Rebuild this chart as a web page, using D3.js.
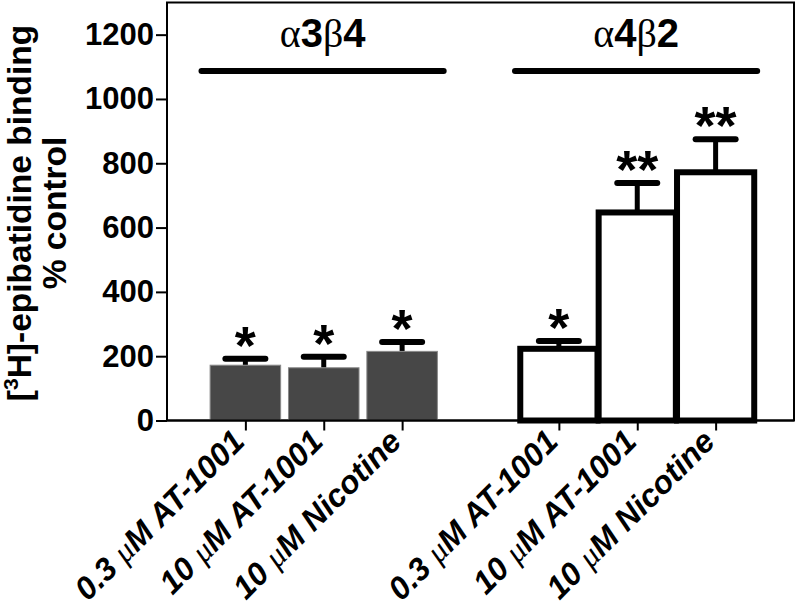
<!DOCTYPE html>
<html><head><meta charset="utf-8">
<script src="https://cdn.jsdelivr.net/npm/d3@7"></script>
<style>body{margin:0;background:#fff}svg{display:block}</style>
</head><body><svg id="c" width="800" height="608"></svg>
<script>
const labels = ["0.3 μM AT-1001","10 μM AT-1001","10 μM Nicotine","0.3 μM AT-1001","10 μM AT-1001","10 μM Nicotine"];
const groups = ["a3b4","a3b4","a3b4","a4b2","a4b2","a4b2"];
const slots = [0,1,2,4,5,6];
const means = [172,164,215,223,647,772];
const sems = [20,34,29,24,92,103];
const stars = ["*","*","*","*","**","**"];
const yTicks = [0,200,400,600,800,1000,1200];

const svg = d3.select("#c");
const L=167,R=794,T=2.5,B=420.5;
const x = d3.scaleLinear().domain([-1,7]).range([L,R]);
const y = d3.scaleLinear().domain([0,1300]).range([B,T]);
const FONT = "'Liberation Sans', Arial, sans-serif";

svg.append("rect").attr("x",L).attr("y",T).attr("width",R-L).attr("height",B-T)
  .attr("fill","none").attr("stroke","#000").attr("stroke-width",2);

const ya = svg.append("g").attr("transform",`translate(${L},0)`)
  .call(d3.axisLeft(y).tickValues(yTicks).tickFormat(d3.format("d")).tickSize(11).tickPadding(2));
ya.select(".domain").remove();
ya.selectAll(".tick line").attr("stroke-width",2);
ya.selectAll(".tick text").attr("font-family",FONT).attr("font-weight","bold").attr("font-size",31).attr("fill","#000");

const xa = svg.append("g").attr("transform",`translate(0,${B})`)
  .call(d3.axisBottom(x).tickValues(slots).tickSize(10).tickFormat(""));
xa.select(".domain").remove();
xa.selectAll(".tick line").attr("stroke-width",2);

const bw = 0.9;
slots.forEach((s,i)=>{
  const filled = groups[i]==="a3b4";
  const w = filled ? (x(bw)-x(0)) : (x(0.985)-x(0));
  svg.append("line").attr("x1",x(s)).attr("x2",x(s)).attr("y1",y(means[i])).attr("y2",y(means[i]+sems[i]))
    .attr("stroke","#000").attr("stroke-width",5);
  svg.append("line").attr("x1",x(s)-20).attr("x2",x(s)+20).attr("y1",y(means[i]+sems[i])).attr("y2",y(means[i]+sems[i]))
    .attr("stroke","#000").attr("stroke-width",6).attr("stroke-linecap","round");
  if(filled){
    svg.append("rect").attr("x",x(s)-w/2).attr("y",y(means[i])).attr("width",w).attr("height",y(0)-y(means[i]))
      .attr("fill","#474747").attr("stroke","#8a8a8a").attr("stroke-width",1);
  } else {
    svg.append("rect").attr("x",x(s)-w/2).attr("y",y(means[i])).attr("width",w).attr("height",y(0)-y(means[i]))
      .attr("fill","#fff").attr("stroke","#000").attr("stroke-width",6);
  }
  svg.append("text").attr("x",x(s)).attr("y",y(means[i]+sems[i])+5).attr("text-anchor","middle")
    .attr("font-family",FONT).attr("font-weight","bold").attr("font-size",54).text(stars[i]);
});

svg.append("line").attr("x1",L).attr("x2",R).attr("y1",B).attr("y2",B).attr("stroke","#000").attr("stroke-width",2);

const groupDefs = [{n:["α","3","β","4"],a:-0.56,b:2.53},{n:["α","4","β","2"],a:3.44,b:6.53}];
groupDefs.forEach(g=>{
  svg.append("line").attr("x1",x(g.a)).attr("x2",x(g.b)).attr("y1",71).attr("y2",71)
    .attr("stroke","#000").attr("stroke-width",6).attr("stroke-linecap","round");
  const t = svg.append("text").attr("x",(x(g.a)+x(g.b))/2).attr("y",47).attr("text-anchor","middle").attr("font-size",40);
  g.n.forEach((c,k)=>{
    t.append("tspan").text(c)
      .attr("font-family", k%2===0 ? "'Liberation Serif', 'Times New Roman', serif" : FONT)
      .attr("font-weight", k%2===0 ? "normal" : "bold");
  });
});

slots.forEach((s,i)=>{
  const parts = labels[i].split("μ");
  const t = svg.append("text").attr("transform",`translate(${x(s)+1},${B+23}) rotate(-45)`)
    .attr("text-anchor","end").attr("font-family",FONT).attr("font-size",32).attr("font-weight","bold").attr("font-style","italic");
  t.append("tspan").text(parts[0]);
  t.append("tspan").text("μ").attr("font-weight","normal").attr("font-family","'Liberation Serif', serif");
  t.append("tspan").text(parts[1]);
});

const yt = svg.append("text").attr("transform","translate(31,213) rotate(-90)").attr("text-anchor","middle")
  .attr("font-family",FONT).attr("font-weight","bold").attr("font-size",33.5);
yt.append("tspan").text("[");
yt.append("tspan").text("3").attr("font-size",21).attr("dy",-13);
yt.append("tspan").text("H]-epibatidine binding").attr("dy",13);
svg.append("text").attr("transform","translate(66,213) rotate(-90)").attr("text-anchor","middle")
  .attr("font-family",FONT).attr("font-weight","bold").attr("font-size",33.5).text("% control");
</script></body></html>
